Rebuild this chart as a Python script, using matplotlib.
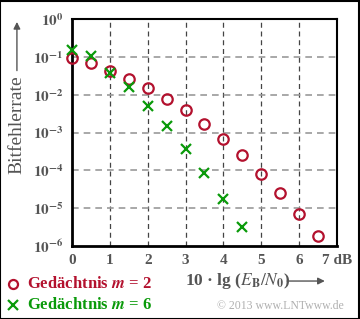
import numpy as np
import matplotlib.pyplot as plt
from matplotlib.patches import Rectangle
from matplotlib.lines import Line2D

plt.rcParams['font.family'] = 'Liberation Serif'
plt.rcParams['mathtext.fontset'] = 'stix'

# Bitfehlerrate vs. 10 lg(EB/N0)
snr_m2 = [0, 0.5, 1, 1.5, 2, 2.5, 3, 3.5, 4, 4.5, 5, 5.5, 6, 6.5]
ber_m2 = [0.095, 0.071, 0.043, 0.026, 0.015, 0.0078, 0.0039, 0.00167,
          6.8e-4, 2.5e-4, 8.1e-5, 2.5e-5, 7.2e-6, 1.8e-6]
snr_m6 = [0, 0.5, 1, 1.5, 2, 2.5, 3, 3.5, 4, 4.5]
ber_m6 = [0.15, 0.107, 0.038, 0.0156, 0.005, 0.00148, 3.6e-4, 8.3e-5,
          1.77e-5, 3.1e-6]
xticks = [0, 1, 2, 3, 4, 5, 6, 7]
xticklabels = ['0', '1', '2', '3', '4', '5', '6', '7 dB']
yticks = [1e0, 1e-1, 1e-2, 1e-3, 1e-4, 1e-5, 1e-6]

red = '#b3112e'
green = '#0a9a0a'
gray = '#555555'

fig = plt.figure(figsize=(3.6, 3.19), dpi=100)
ax = fig.add_axes([0.2, 0.229, 0.736, 0.711])

ax.set_yscale('log')
ax.set_xlim(0, 7)
ax.set_ylim(1e-6, 1e0)

# grid
for x in range(1, 7):
    ax.axvline(x, color='#444444', lw=0.9, ls=(0, (4, 3)), zorder=1)
for y in yticks[1:-1]:
    ax.axhline(y, color='#999999', lw=1.2, ls=(0, (4, 3)), zorder=1)

ax.plot(snr_m2, ber_m2, 'o', ms=7.5, mfc='none', mec=red, mew=1.6,
        clip_on=False, zorder=3)
ax.plot(snr_m6, ber_m6, 'x', ms=7, mec=green, mew=1.6, clip_on=False, zorder=3)

for s in ax.spines.values():
    s.set_linewidth(1.5)
    s.set_color('black')
ax.spines['left'].set_linewidth(2)
ax.spines['bottom'].set_linewidth(2)

ax.set_xticks(xticks)
ax.set_xticklabels(xticklabels)
for lab in ax.get_xticklabels():
    lab.set_fontweight('bold')
    lab.set_color(gray)
    lab.set_fontsize(11)
ax.set_yticks(yticks)
ax.set_yticklabels([r'$\mathbf{10^{%d}}$' % int(np.log10(v)) for v in yticks],
                   fontsize=11, color=gray)
ax.yaxis.set_minor_locator(plt.NullLocator())
ax.tick_params(length=0, pad=6)

# axis labels with arrows
fig.text(0.047, 0.608, 'Bitfehlerrate', rotation=90, fontsize=14,
         color=gray, ha='center', va='center')
ax.annotate('', xy=(0.047, 0.94), xytext=(0.047, 0.77),
            xycoords='figure fraction',
            arrowprops=dict(arrowstyle='-|>', color=gray, lw=1, mutation_scale=10))
fig.text(0.513, 0.119, r'10 · lg ($E_\mathbf{B}/N_\mathbf{0}$)',
         fontsize=12.5, fontweight='bold', color=gray, ha='left', va='center')
ax.annotate('', xy=(0.91, 0.119), xytext=(0.79, 0.119),
            xycoords='figure fraction',
            arrowprops=dict(arrowstyle='-|>', color=gray, lw=1, mutation_scale=10))

# legend
fig.add_artist(Line2D([0.036], [0.11], marker='o', ms=6.5, mfc='none',
                      mec=red, mew=1.6, transform=fig.transFigure))
fig.text(0.075, 0.11, r'Gedächtnis $\boldsymbol{m}$ = 2', color=red,
         fontsize=12, fontweight='bold', ha='left', va='center')
fig.add_artist(Line2D([0.036], [0.044], marker='x', ms=6.5, mec=green,
                      mew=1.6, transform=fig.transFigure))
fig.text(0.075, 0.044, r'Gedächtnis $\boldsymbol{m}$ = 6', color=green,
         fontsize=12, fontweight='bold', ha='left', va='center')

fig.text(0.955, 0.04, '© 2013 www.LNTwww.de', color='#b0b0b0', fontsize=8.5,
         ha='right', va='center')

fig.patches.append(Rectangle((0.001, 0.001), 0.997, 0.996,
                             transform=fig.transFigure, fill=False,
                             edgecolor='black', lw=1.5))

fig.savefig('out.png', dpi=100)
